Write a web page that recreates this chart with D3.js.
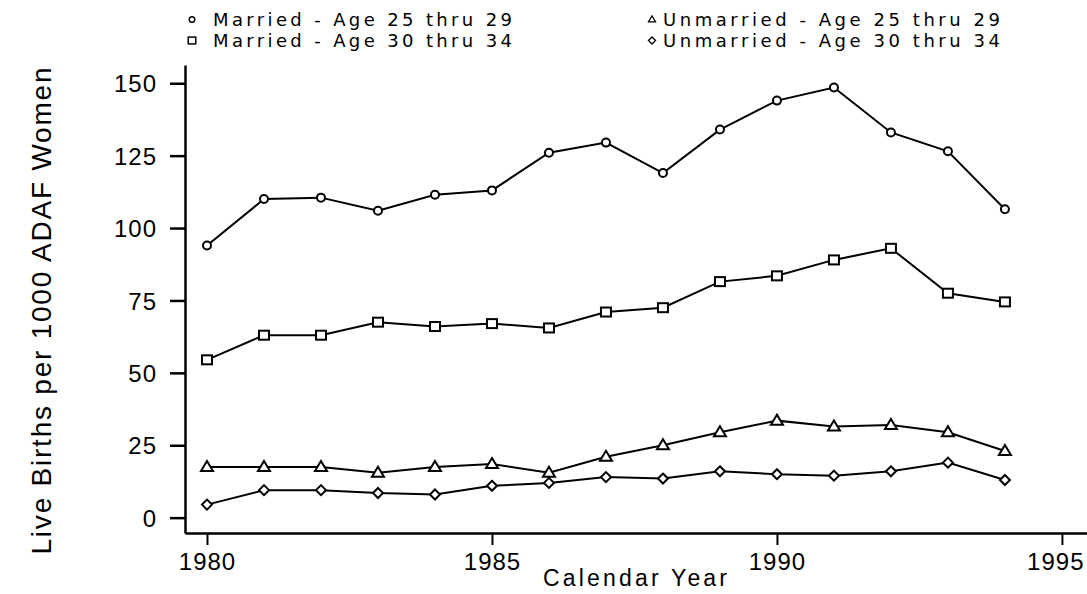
<html>
<head>
<meta charset="utf-8">
<title>Live births per 1000 ADAF women</title>
<script src="https://d3js.org/d3.v7.min.js"></script>
<style>
  body { margin: 0; padding: 0; background: #fff; }
  svg text { font-family: "Liberation Sans", Arial, sans-serif; fill: #000; }
  svg text.legend { font-family: "DejaVu Sans", sans-serif; }
</style>
</head>
<body>
<script>
// data
var years = [1980, 1981, 1982, 1983, 1984, 1985, 1986, 1987, 1988, 1989, 1990, 1991, 1992, 1993, 1994];
var married2529   = [94, 110, 110.5, 106, 111.5, 113, 126, 129.5, 119, 134, 144, 148.5, 133, 126.5, 106.5];
var married3034   = [54.5, 63, 63, 67.5, 66, 67, 65.5, 71, 72.5, 81.5, 83.5, 89, 93, 77.5, 74.5];
var unmarried2529 = [17.5, 17.5, 17.5, 15.5, 17.5, 18.5, 15.5, 21, 25, 29.5, 33.5, 31.5, 32, 29.5, 23];
var unmarried3034 = [4.5, 9.5, 9.5, 8.5, 8, 11, 12, 14, 13.5, 16, 15, 14.5, 16, 19, 13];
var yTicks = [0, 25, 50, 75, 100, 125, 150];
var xTicks = [1980, 1985, 1990, 1995];
var seriesNames = ["Married - Age 25 thru 29", "Married - Age 30 thru 34",
                   "Unmarried - Age 25 thru 29", "Unmarried - Age 30 thru 34"];

var w = 1087, h = 594;

var svg = d3.select("body").append("svg")
    .attr("width", w)
    .attr("height", h);

var x = d3.scaleLinear().domain([1979.614, 1995.44]).range([185, 1087]);
var y = d3.scaleLinear().domain([-5.3, 156.3]).range([533, 65]);

var series = [
  {name: seriesNames[0], values: married2529, sym: "circle"},
  {name: seriesNames[1], values: married3034, sym: "square"},
  {name: seriesNames[2], values: unmarried2529, sym: "triangle"},
  {name: seriesNames[3], values: unmarried3034, sym: "diamond"}
];

// y axis
var yAxis = d3.axisLeft(y).tickValues(yTicks).tickSize(15).tickPadding(13).tickSizeOuter(0);
var gy = svg.append("g").attr("transform", "translate(185,0)").call(yAxis);
gy.select(".domain").attr("stroke-width", 2.5);
gy.selectAll(".tick line").attr("stroke-width", 2.5);
gy.selectAll(".tick text")
    .attr("font-size", 24)
    .attr("letter-spacing", 1)
    .attr("dy", "0.36em");

// x axis
var xAxis = d3.axisBottom(x).tickValues(xTicks).tickSize(12).tickPadding(8)
    .tickFormat(d3.format("d")).tickSizeOuter(0);
var gx = svg.append("g").attr("transform", "translate(0,533)").call(xAxis);
gx.select(".domain").attr("stroke-width", 2.5);
gx.selectAll(".tick line").attr("stroke-width", 2);
gx.selectAll(".tick text")
    .attr("font-size", 24)
    .attr("letter-spacing", 1)
    .attr("dy", "0.72em");
// last label pulled in so it stays on the page
gx.selectAll(".tick text").filter(function(d) { return d === 1995; })
    .attr("text-anchor", "end")
    .attr("x", w - 3 - x(1995));

// axis titles
svg.append("text")
    .attr("x", 635).attr("y", 586)
    .attr("text-anchor", "middle")
    .attr("font-size", 23)
    .attr("textLength", 184)
    .attr("lengthAdjust", "spacing")
    .text("Calendar Year");

svg.append("text")
    .attr("transform", "translate(51,311) rotate(-90)")
    .attr("text-anchor", "middle")
    .attr("font-size", 28)
    .attr("textLength", 487)
    .attr("lengthAdjust", "spacing")
    .text("Live Births per 1000 ADAF Women");

// marker drawing
function drawSymbol(g, sym) {
  if (sym === "circle") {
    g.append("circle").attr("r", 4);
  } else if (sym === "square") {
    g.append("rect").attr("x", -5).attr("y", -4.5).attr("width", 10).attr("height", 9);
  } else if (sym === "triangle") {
    g.append("path").attr("d", "M0,-6L6,4L-6,4Z");
  } else {
    g.append("path").attr("d", "M0,-5L5,0L0,5L-5,0Z");
  }
  g.selectAll("*").attr("fill", "#fff").attr("stroke", "#000").attr("stroke-width", 2);
}

var line = d3.line()
    .x(function(d, i) { return x(years[i]); })
    .y(function(d) { return y(d); });

series.forEach(function(s) {
  svg.append("path")
      .datum(s.values)
      .attr("d", line)
      .attr("fill", "none")
      .attr("stroke", "#000")
      .attr("stroke-width", 2);

  svg.selectAll(null)
      .data(s.values)
      .enter().append("g")
      .attr("transform", function(d, i) { return "translate(" + x(years[i]) + "," + y(d) + ")"; })
      .each(function() { drawSymbol(d3.select(this), s.sym); });
});

// legend
var legendPos = [
  {sx: 192, tx: 213, ty: 25.5, len: 299},
  {sx: 192, tx: 213, ty: 46.5, len: 299},
  {sx: 652, tx: 663, ty: 25.5, len: 337},
  {sx: 652, tx: 663, ty: 46.5, len: 337}
];
var legendScale = [0.7, 0.75, 0.6, 0.7];

series.forEach(function(s, i) {
  var p = legendPos[i];
  var g = svg.append("g")
      .attr("transform", "translate(" + p.sx + "," + (p.ty - 6) + ") scale(" + legendScale[i] + ")");
  drawSymbol(g, s.sym);
  svg.append("text")
      .attr("class", "legend")
      .attr("x", p.tx).attr("y", p.ty)
      .attr("font-size", 18)
      .attr("textLength", p.len)
      .attr("lengthAdjust", "spacing")
      .text(s.name);
});
</script>
</body>
</html>
